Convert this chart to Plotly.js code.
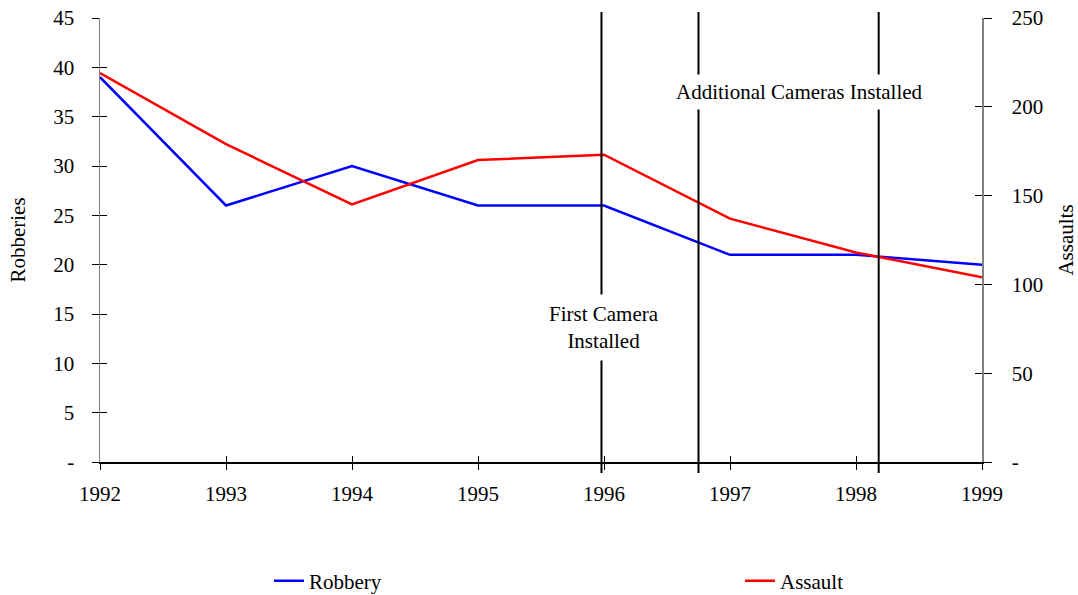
<!DOCTYPE html>
<html>
<head>
<meta charset="utf-8">
<script src="https://cdn.plot.ly/plotly-3.0.1.min.js"></script>
<style>html,body{margin:0;padding:0;background:#fff;}#chart{width:1078px;height:595px;}</style>
</head>
<body>
<div id="chart"></div>
<script>
const years = [1992, 1993, 1994, 1995, 1996, 1997, 1998, 1999];
const robbery = [39, 26, 30, 26, 26, 21, 21, 20];
const assault = [219, 179, 145, 170, 173, 137, 118, 104];
const leftTicks = [0, 5, 10, 15, 20, 25, 30, 35, 40, 45];
const leftTickText = ['-', '5', '10', '15', '20', '25', '30', '35', '40', '45'];
const rightTicks = [0, 50, 100, 150, 200, 250];
const rightTickText = ['-', '50', '100', '150', '200', '250'];
const eventYears = [1995.98, 1996.75, 1998.18];
const eventLabels = ['First Camera<br>Installed', 'Additional Cameras Installed'];
const eventLabelX = [1996, 1997.55];
const eventLabelY = [13.63, 37.55];

const font = {family: 'Liberation Serif, Times New Roman, serif', size: 21, color: '#000'};

const traces = [
  {x: years, y: robbery, name: 'Robbery', type: 'scatter', mode: 'lines',
   line: {color: '#0000FF', width: 2.5}, xaxis: 'x', yaxis: 'y', legend: 'legend'},
  {x: years, y: assault, name: 'Assault', type: 'scatter', mode: 'lines',
   line: {color: '#FF0000', width: 2.5}, xaxis: 'x', yaxis: 'y2', legend: 'legend2'},
  // invisible helpers for inside tick marks
  {x: [years[0]], y: [0], mode: 'markers', marker: {opacity: 0}, showlegend: false, hoverinfo: 'skip', xaxis: 'x2', yaxis: 'y3'},
  {x: [years[0]], y: [0], mode: 'markers', marker: {opacity: 0}, showlegend: false, hoverinfo: 'skip', xaxis: 'x2', yaxis: 'y4'}
];

const shapes = eventYears.map(v => ({
  type: 'line', xref: 'x', yref: 'paper', x0: v, x1: v, y0: -0.025, y1: 1.0135,
  line: {color: '#000', width: 2}, layer: 'above'
}));

const annotations = [
  {x: eventLabelX[0], y: eventLabelY[0], xref: 'x', yref: 'y', text: eventLabels[0], showarrow: false,
   font: font, bgcolor: '#fff', borderpad: 7, align: 'center'},
  {x: eventLabelX[1], y: eventLabelY[1], xref: 'x', yref: 'y', text: eventLabels[1], showarrow: false,
   font: font, bgcolor: '#fff', borderpad: 5, align: 'center'}
];

const layout = {
  width: 1078, height: 595,
  margin: {l: 100, r: 96, t: 18, b: 133, autoexpand: false},
  paper_bgcolor: '#fff', plot_bgcolor: '#fff',
  font: font,
  showlegend: true,
  legend: {orientation: 'h', x: 0.1916, y: -0.268, xanchor: 'left', yanchor: 'middle', font: font, bgcolor: 'rgba(0,0,0,0)'},
  legend2: {orientation: 'h', x: 0.7256, y: -0.268, xanchor: 'left', yanchor: 'middle', font: font, bgcolor: 'rgba(0,0,0,0)'},
  xaxis: {range: [1992, 1999], tickvals: years, ticktext: years.map(String),
          showgrid: false, zeroline: false, showline: true, linecolor: '#000', linewidth: 1.5,
          ticks: 'outside', ticklen: 6, tickcolor: '#000', tickwidth: 1, ticklabelstandoff: 6,
          tickfont: font, automargin: false},
  xaxis2: {range: [1992, 1999], overlaying: 'x', tickvals: years, showticklabels: false,
           showgrid: false, zeroline: false, showline: false,
           ticks: 'inside', ticklen: 6, tickcolor: '#000', tickwidth: 1},
  yaxis: {range: [0, 45], tickvals: leftTicks, ticktext: leftTickText,
          showgrid: false, zeroline: false, showline: true, linecolor: '#808080', linewidth: 1.5,
          ticks: 'outside', ticklen: 7, tickcolor: '#000', tickwidth: 1, ticklabelstandoff: 13,
          tickfont: font, automargin: false,
          title: {text: 'Robberies', font: font, standoff: 22}},
  yaxis2: {range: [0, 250], overlaying: 'y', side: 'right', tickvals: rightTicks, ticktext: rightTickText,
           showgrid: false, zeroline: false, showline: true, linecolor: '#808080', linewidth: 1.5,
           ticks: 'outside', ticklen: 8, tickcolor: '#000', tickwidth: 1, ticklabelstandoff: 16,
           tickfont: font, automargin: false,
           title: {text: 'Assaults', font: font, standoff: 20}},
  yaxis3: {range: [0, 45], overlaying: 'y', side: 'left', tickvals: leftTicks, showticklabels: false,
           showgrid: false, zeroline: false, showline: false,
           ticks: 'inside', ticklen: 7, tickcolor: '#000', tickwidth: 1},
  yaxis4: {range: [0, 250], overlaying: 'y', side: 'right', tickvals: rightTicks, showticklabels: false,
           showgrid: false, zeroline: false, showline: false,
           ticks: 'inside', ticklen: 7, tickcolor: '#000', tickwidth: 1},
  shapes: shapes,
  annotations: annotations
};

Plotly.newPlot('chart', traces, layout, {staticPlot: true, displayModeBar: false});
</script>
</body>
</html>
